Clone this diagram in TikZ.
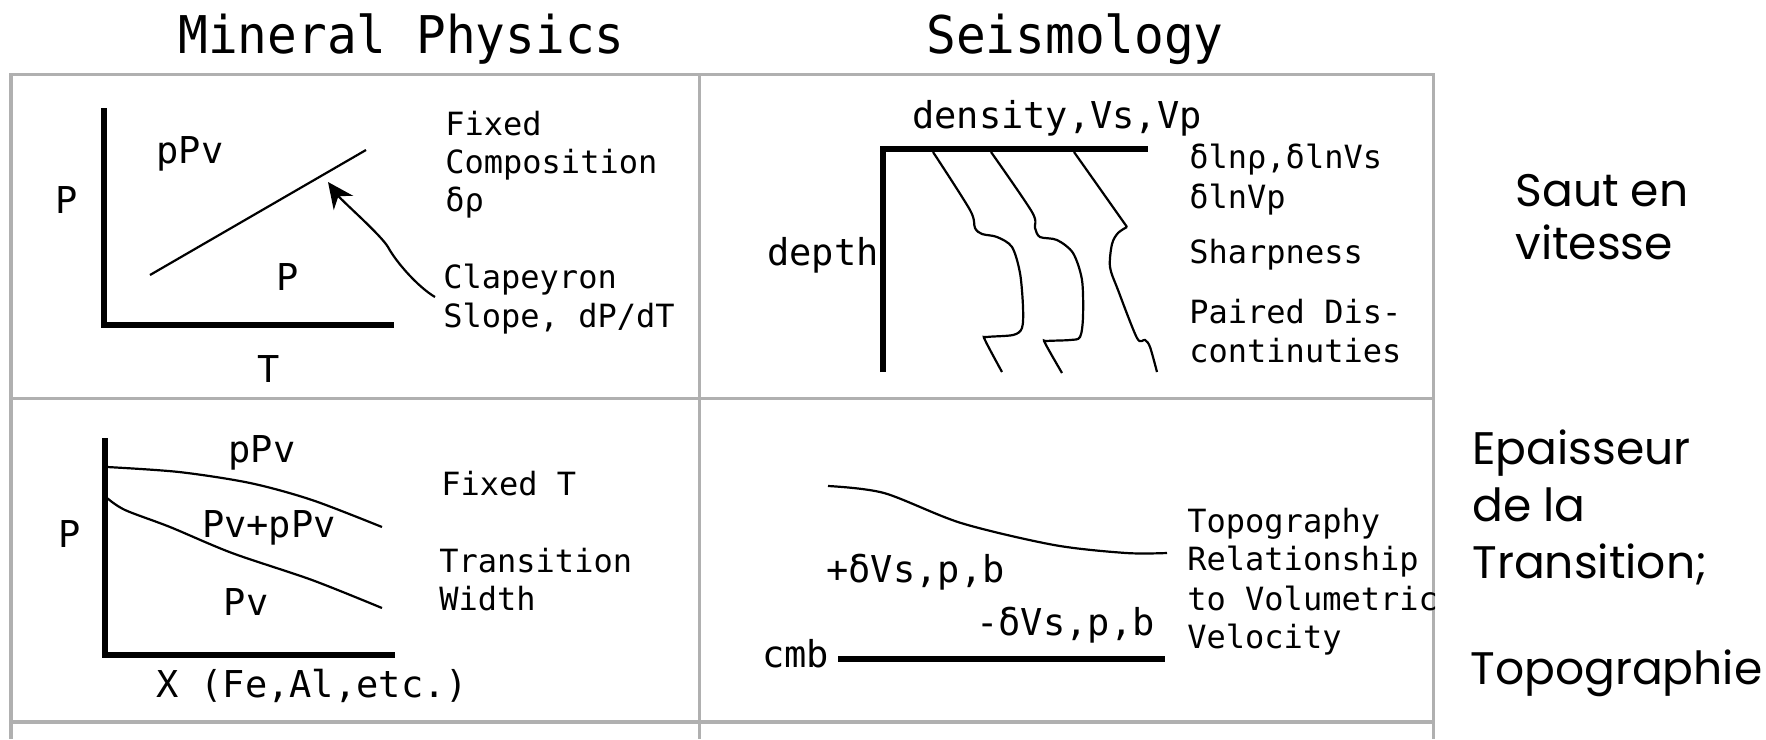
\documentclass[tikz,border=0pt]{standalone}
\usepackage{fontspec}
\newfontfamily\monoT[FakeStretch=0.95]{DejaVu Sans Mono}
\newfontfamily\mono{DejaVu Sans Mono}
\newfontfamily\comic{Poppins}
\usetikzlibrary{arrows.meta}
\definecolor{rulegray}{HTML}{B0B0B0}
\begin{document}
\begin{tikzpicture}[x=0.5pt,y=-0.5pt,
  tablerule/.style={draw=rulegray, line width=1.75pt},
  axisline/.style={line width=2.6pt, line join=miter},
  phaseline/.style={line width=1.1pt},
  ttl/.style={font=\monoT\fontsize{26}{30}\selectfont, inner sep=0pt, anchor=base},
  lbl/.style={font=\mono\fontsize{18.5}{22}\selectfont, inner sep=0pt, anchor=base},
  note/.style={font=\mono\fontsize{16}{19}\selectfont, inner sep=0pt, anchor=base west},
  fr/.style={font=\comic\fontsize{22.8}{27}\selectfont, inner sep=0pt, anchor=base west}]
\useasboundingbox (0,0) rectangle (1766,739);
% table rules
\draw[tablerule] (11,739) -- (11,74.5) -- (1433.5,74.5) -- (1433.5,739);
\draw[tablerule] (699.5,74.5) -- (699.5,739);
\draw[tablerule] (11,398.5) -- (1433.5,398.5);
\draw[tablerule] (11,722) -- (1433.5,722);
% titles
\node[ttl] (titleMP) at (401.5,53) {Mineral Physics};
\node[ttl] (titleSeis) at (1075,54) {Seismology};
% ---- Mineral physics, P-T
\draw[axisline] (104,108) -- (104,325) -- (394,325);
\draw[phaseline] (150,275) -- (366,150);
\node[lbl] (pAxisA) at (67,213) {P};
\node[lbl] (ppvA) at (190,163) {pPv};
\node[lbl] (pvA) at (288,290) {P};
\node[lbl] (tAxisA) at (269,382) {T};
\node[note] (fixedA) at (445,135) {Fixed};
\node[note] (compA) at (445,173) {Composition};
\node[note] (drhoA) at (445,211) {δρ};
\node[note] (clapA) at (443,288) {Clapeyron};
\node[note] (slopeA) at (443,327) {Slope, dP/dT};
\coordinate (clapStart) at (435,297);
\coordinate (clapMid) at (388,247);
\coordinate (clapTip) at (328,182);
\draw[phaseline, -{Stealth[length=13pt,width=12pt]}] (clapStart) .. controls (418,287) and (396,262) .. (clapMid) .. controls (380,234) and (342,201) .. (clapTip);
% ---- Seismology, depth profiles
\node[lbl] (densB) at (1057,128) {density,Vs,Vp};
\draw[axisline, line width=3pt] (883,372) -- (883,149) -- (1148,149);
\node[lbl, anchor=base east] (depthB) at (879,265) {depth};
\draw[phaseline] plot[smooth, tension=0.5] coordinates {(933,152) (970,210) (975,228) (982,234) (997,237) (1012,247) (1020,273) (1023,307) (1022,328) (1013,335) (987,337) (985,340) (1002,372)};
\draw[phaseline] plot[smooth, tension=0.5] coordinates {(991,152) (1032,212) (1035,228) (1040,237) (1057,240) (1073,253) (1082,280) (1083,317) (1080,337) (1070,340) (1047,341) (1045,343) (1062,373)};
\draw[phaseline] (1074,152) -- (1127,227) plot[smooth, tension=0.5] coordinates {(1127,227) (1118,233) (1112,244) (1110,267) (1118,290) (1137,338) (1145,340) (1150,347) (1157,372)};
\node[note] (dlnB) at (1189,168) {δlnρ,δlnVs};
\node[note] (dlnvpB) at (1189,208) {δlnVp};
\node[note] (sharpB) at (1189,263) {Sharpness};
\node[note] (pairedB) at (1189,323) {Paired Dis-};
\node[note] (contB) at (1189,362) {continuties};
% ---- Mineral physics, P-X
\draw[axisline] (105,438) -- (105,655) -- (395,655);
\draw[phaseline] plot[smooth] coordinates {(107,467) (179,472) (250,483) (312,500) (382,527)};
\draw[phaseline] plot[smooth] coordinates {(107,498) (125,510) (170,527) (232,553) (312,580) (382,608)};
\node[lbl] (ppvC) at (262,462) {pPv};
\node[lbl] (pAxisC) at (70,547) {P};
\node[lbl] (mixC) at (269,537) {Pv+pPv};
\node[lbl] (pvC) at (246,615) {Pv};
\node[lbl] (xAxisC) at (312,697) {X (Fe,Al,etc.)};
\node[note] (fixedC) at (441,495) {Fixed T};
\node[note] (transC) at (439,572) {Transition};
\node[note] (widthC) at (439,610) {Width};
% ---- Seismology, topography
\draw[phaseline] plot[smooth] coordinates {(828,486) (884,493) (961,523) (1054,545) (1126,553) (1167,553)};
\node[lbl, anchor=base west] (plusD) at (826,582) {+δVs,p,b};
\node[lbl, anchor=base west] (minusD) at (976,635) {-δVs,p,b};
\node[lbl, anchor=base west] (cmbD) at (762,667) {cmb};
\draw[axisline, line width=3pt] (838,659) -- (1165,659);
\node[note] (topoD) at (1187,532) {Topography};
\node[note] (relD) at (1187,570) {Relationship};
\node[note] (volD) at (1187,610) {to Volumetric};
\node[note] (velD) at (1187,648) {Velocity};
% ---- right-hand French notes
\node[fr] (sautR) at (1515,206) {Saut en};
\node[fr] (vitR) at (1515,259) {vitesse};
\node[fr] (epR) at (1472,464) {Epaisseur};
\node[fr] (delaR) at (1472,521) {de la};
\node[fr] (transR) at (1472,578) {Transition;};
\node[fr] (topoR) at (1470,684) {Topographie};
\end{tikzpicture}
\end{document}
